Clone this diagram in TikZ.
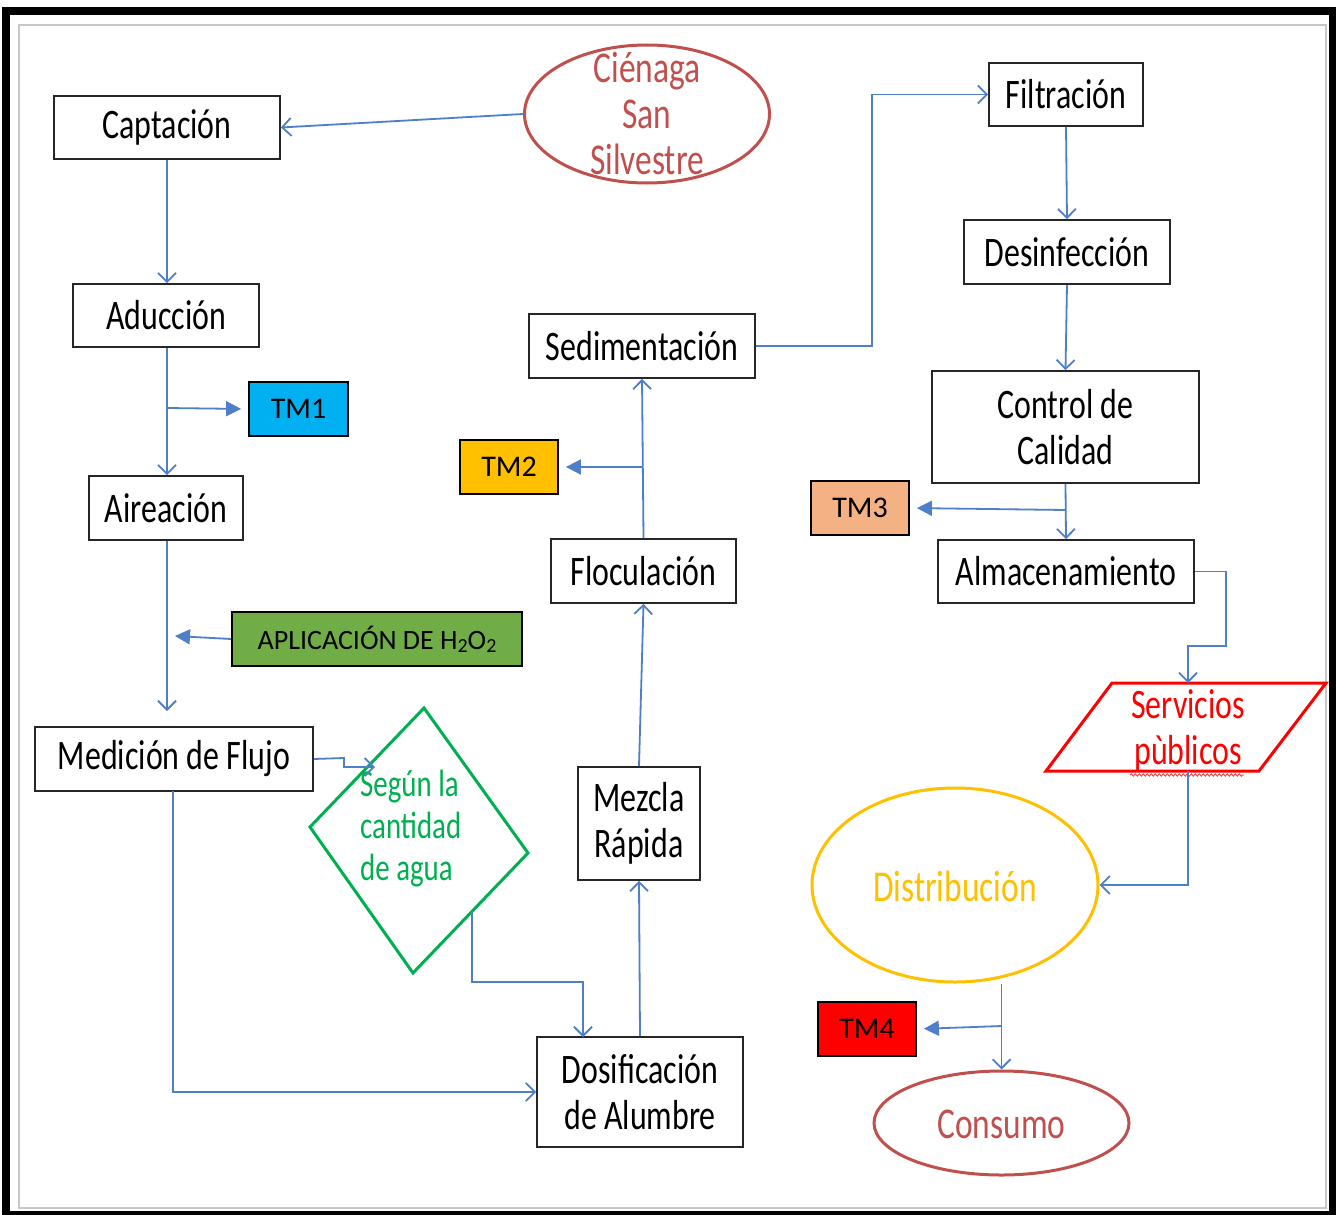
\documentclass[tikz,border=0pt]{standalone}
\usepackage{fontspec}
\setmainfont{Carlito}
\newfontfamily\narrowfont[FakeStretch=0.76]{Carlito}
\usetikzlibrary{arrows.meta,shapes.geometric,decorations.pathmorphing}
\definecolor{flow}{HTML}{4F7FC8}
\definecolor{brick}{HTML}{C0504D}
\definecolor{tmblue}{HTML}{00B0F0}
\definecolor{tmyellow}{HTML}{FFC000}
\definecolor{tmorange}{HTML}{F4B183}
\definecolor{tmgreen}{HTML}{70AD47}
\definecolor{dgreen}{HTML}{00B050}
\begin{document}
\begin{tikzpicture}[x=1pt,y=-1pt,
  box/.style={draw=black!85, line width=1.8pt, fill=white, inner sep=0pt, align=center,
    font=\narrowfont\fontsize{42}{46}\selectfont},
  tmbox/.style={draw=black, line width=1.8pt, inner sep=0pt, minimum width=98pt, minimum height=54pt,
    font=\fontsize{30}{32}\selectfont},
  conn/.style={draw=flow, line width=1.8pt, -{Straight Barb[length=9pt,width=18pt]}},
  tmconn/.style={draw=flow, line width=1.8pt, -{Triangle[length=15pt,width=15pt]}, shorten >=7pt},
  ovalshape/.style={ellipse, draw, line width=3pt, inner sep=0pt},
  ovaltext/.style={align=center, inner sep=0pt, font=\narrowfont\fontsize{44}{46}\selectfont}
]
\useasboundingbox (0,0) rectangle (1336,1215);
% frame
\fill[black] (2,7) rectangle (1336,1215);
\fill[white] (10,15) rectangle (1329,1211);
\draw[black!22, line width=2pt] (19,25) rectangle (1326,1208);

% left column
\node[box, minimum width=226pt, minimum height=63pt] (cap) at (167,127.5) {Captación};
\node[box, minimum width=186pt, minimum height=63pt] (adu) at (166,315.5) {Aducción};
\node[tmbox, fill=tmblue, minimum width=99pt] (tm1) at (298.5,409) {TM1};
\node[box, minimum width=154pt, minimum height=64pt] (aire) at (166,508) {Aireación};
\node[tmbox, fill=tmgreen, minimum width=290pt, font=\fontsize{28}{30}\selectfont] (h2o2) at (377,639) {APLICACIÓN DE H\raisebox{-0.25ex}{\fontsize{20}{20}\selectfont 2}O\raisebox{-0.25ex}{\fontsize{20}{20}\selectfont 2}};
\node[box, minimum width=278pt, minimum height=64pt] (med) at (174,759) {Medición de Flujo};

% source
\node[ovalshape, draw=brick, minimum width=245pt, minimum height=138pt] (cien) at (647,114) {};
\node[ovaltext, text=brick] (cientext) at (647,114) {Ciénaga\\San\\Silvestre};

% diamond
\coordinate (dt) at (424,708);
\coordinate (dr) at (528,853);
\coordinate (db) at (413,973);
\coordinate (dl) at (310,827);
\draw[dgreen, line width=3pt, line join=miter] (dt) -- (dr) -- (db) -- (dl) -- cycle;
\node[anchor=west, align=left, text=dgreen, inner sep=0pt, font=\narrowfont\fontsize{38}{42}\selectfont] (dtext) at (360,829) {Según la\\cantidad\\de agua};

% middle column
\node[box, minimum width=206pt, minimum height=110pt] (dos) at (640,1092) {Dosificación\\de Alumbre};
\node[box, minimum width=122pt, minimum height=113pt] (mez) at (639,823.5) {Mezcla\\Rápida};
\node[box, minimum width=185pt, minimum height=64pt] (floc) at (643.5,571) {Floculación};
\node[tmbox, fill=tmyellow] (tm2) at (509,467) {TM2};
\node[box, minimum width=226pt, minimum height=64pt] (sed) at (642,346) {Sedimentación};

% right column
\node[box, minimum width=154pt, minimum height=63pt] (fil) at (1066,94.5) {Filtración};
\node[box, minimum width=206pt, minimum height=64pt] (des) at (1067,252) {Desinfección};
\node[box, minimum width=267pt, minimum height=112pt] (cc) at (1065.5,427) {Control de\\Calidad};
\node[tmbox, fill=tmorange] (tm3) at (860,508) {TM3};
\node[box, minimum width=256pt, minimum height=63pt] (alm) at (1066,571.5) {Almacenamiento};

% servicios publicos parallelogram
\coordinate (p1) at (1112,683);
\coordinate (p2) at (1326,683);
\coordinate (p3) at (1259,771);
\coordinate (p4) at (1046,771);
\draw[red, line width=3pt, line join=miter] (p1) -- (p2) -- (p3) -- (p4) -- cycle;
\node[align=center, text=red, inner sep=0pt, font=\narrowfont\fontsize{42}{46}\selectfont] (serv) at (1188,730) {Servicios\\pùblicos};
\draw[red!80, line width=0.8pt, decorate, decoration={snake, amplitude=1.2pt, segment length=4pt}] (1130,775) -- (1244,775);
\coordinate (servtop) at (1188,683);
\coordinate (servbot) at (1188,771);

\node[ovalshape, draw=tmyellow, minimum width=286pt, minimum height=194pt] (dist) at (955,885) {};
\node[ovaltext, text=tmyellow] (disttext) at (955,886) {Distribución};
\node[tmbox, fill=red] (tm4) at (867,1029) {TM4};
\node[ovalshape, draw=brick, minimum width=255pt, minimum height=104pt] (cons) at (1001.5,1123) {};
\node[ovaltext, text=brick] (constext) at (1001.5,1124) {Consumo};

% connectors
\coordinate (b1) at (167,408);
\coordinate (aend) at (167,711);
\coordinate (hend) at (175,636);
\coordinate (dentry) at (375,767);
\coordinate (dexit) at (472,911);
\coordinate (b2) at (642,467);
\coordinate (b3) at (1066,510);
\coordinate (b4) at (1002,1026);

\draw[conn] (cien.west) -- (cap.east);
\draw[conn] (cap.south) -- (cap.south |- adu.north);
\draw[conn] (cap.south |- adu.south) -- (cap.south |- aire.north);
\draw[tmconn] (b1) -- (tm1.west);
\draw[conn] (cap.south |- aire.south) -- (aend);
\draw[tmconn, shorten >=0pt] (h2o2.west) -- (hend);
\draw[conn] (med.east) -- (344,758) -- (344,767) -- (dentry);
\draw[conn] (173,791) |- (dos.west);
\draw[conn] (dexit) -- (472,982) -| (583,1037);
\draw[conn] (dos.north) -- (mez.south);
\draw[conn] (mez.north) -- (floc.south);
\draw[conn] (floc.north) -- (sed.south);
\draw[tmconn] (b2) -- (tm2.east);
\draw[conn] (sed.east) -- (872,346) |- (fil.west);
\draw[conn] (fil.south) -- (des.north);
\draw[conn] (des.south) -- (cc.north);
\draw[conn] (cc.south) -- (alm.north);
\draw[tmconn] (b3) -- (tm3.east);
\draw[conn] (alm.east) -| (1226,646) -| (servtop);
\draw[conn] (servbot) |- (dist.east);
\draw[conn] (dist.south -| cons.north) -- (cons.north);
\draw[tmconn] (b4) -- (tm4.east);
\end{tikzpicture}
\end{document}
